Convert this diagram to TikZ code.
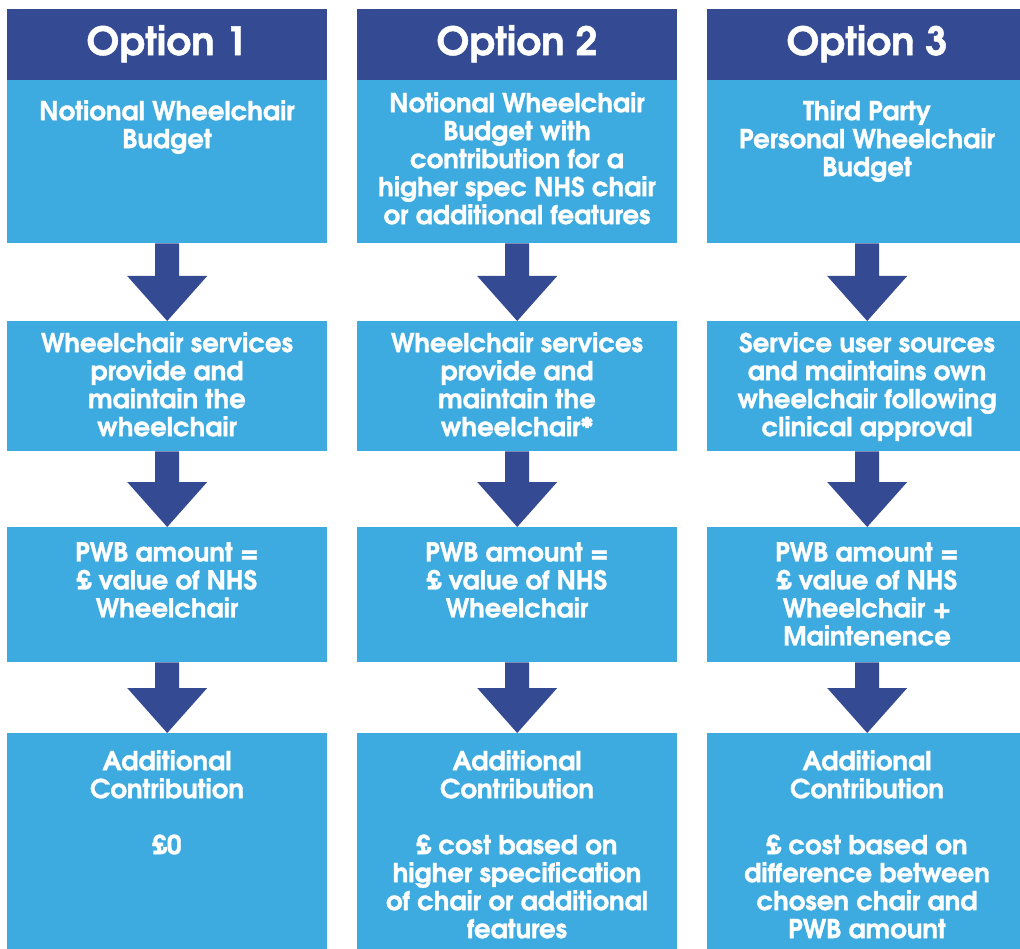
\documentclass[tikz,border=0pt]{standalone}
\usepackage{fontspec}
\setmainfont{TeX Gyre Adventor}[BoldFeatures={FakeBold=1.2}]
\usetikzlibrary{calc}
\definecolor{dblue}{RGB}{52,75,148}
\definecolor{lblue}{RGB}{61,171,224}
\newcommand\flowarrow[2]{%
  \fill[dblue] ($(#1.south)+(-12,0)$) -- ($(#1.south)+(12,0)$)
    -- ($(#2.north)+(12,-45)$) -- ($(#2.north)+(40,-45)$) -- (#2.north)
    -- ($(#2.north)+(-40,-45)$) -- ($(#2.north)+(-12,-45)$) -- cycle;}
\begin{document}
\begin{tikzpicture}[x=1pt,y=-1pt,
  hdrbox/.style={fill=dblue,draw=none,rectangle,inner sep=0pt,minimum width=320pt,anchor=north west},
  cellbox/.style={fill=lblue,draw=none,rectangle,inner sep=0pt,minimum width=320pt,anchor=north west},
  hdrtext/.style={text=white,font=\bfseries\fontsize{39}{44}\selectfont,anchor=north,inner sep=0pt},
  celltext/.style={text=white,font=\bfseries\fontsize{26}{28}\selectfont,align=center,anchor=north,inner sep=0pt}]
\useasboundingbox (0,0) rectangle (1020,949);
% column 1
\node[hdrbox,minimum height=71pt] (h1) at (7,9) {};
\node[cellbox,minimum height=163pt] (a1) at (7,80) {};
\node[cellbox,minimum height=130pt] (b1) at (7,321) {};
\node[cellbox,minimum height=135pt] (c1) at (7,527) {};
\node[cellbox,minimum height=216pt] (d1) at (7,733) {};
% column 2
\node[hdrbox,minimum height=71pt] (h2) at (357,9) {};
\node[cellbox,minimum height=163pt] (a2) at (357,80) {};
\node[cellbox,minimum height=130pt] (b2) at (357,321) {};
\node[cellbox,minimum height=135pt] (c2) at (357,527) {};
\node[cellbox,minimum height=216pt] (d2) at (357,733) {};
% column 3
\node[hdrbox,minimum height=71pt] (h3) at (707,9) {};
\node[cellbox,minimum height=163pt] (a3) at (707,80) {};
\node[cellbox,minimum height=130pt] (b3) at (707,321) {};
\node[cellbox,minimum height=135pt] (c3) at (707,527) {};
\node[cellbox,minimum height=216pt] (d3) at (707,733) {};
% arrows
\flowarrow{a1}{b1}\flowarrow{b1}{c1}\flowarrow{c1}{d1}
\flowarrow{a2}{b2}\flowarrow{b2}{c2}\flowarrow{c2}{d2}
\flowarrow{a3}{b3}\flowarrow{b3}{c3}\flowarrow{c3}{d3}
% headers
\node[hdrtext] (ht1) at (167,25) {Option 1};
\node[hdrtext] (ht2) at (517,25) {Option 2};
\node[hdrtext] (ht3) at (867,25) {Option 3};
% texts
\node[celltext] (ta1) at (167,100) {Notional Wheelchair\\Budget};
\node[celltext] (ta2) at (517,92) {Notional Wheelchair\\Budget with\\contribution for a\\higher spec NHS chair\\or additional features};
\node[celltext] (ta3) at (867,100) {Third Party\\Personal Wheelchair\\Budget};
\node[celltext] (tb1) at (167,332) {Wheelchair services\\provide and\\maintain the\\wheelchair};
\node[celltext] (tb2) at (517,332) {Wheelchair services\\provide and\\maintain the\\wheelchair*};
\node[celltext] (tb3) at (867,332) {Service user sources\\and maintains own\\wheelchair following\\clinical approval};
\node[celltext] (tc1) at (167,542) {PWB amount =\\£ value of NHS\\Wheelchair};
\node[celltext] (tc2) at (517,542) {PWB amount =\\£ value of NHS\\Wheelchair};
\node[celltext] (tc3) at (867,542) {PWB amount =\\£ value of NHS\\Wheelchair +\\Maintenence};
\node[celltext] (td1) at (167,750) {Additional\\Contribution\\[28pt]£0};
\node[celltext] (td2) at (517,750) {Additional\\Contribution\\[28pt]£ cost based on\\higher specification\\of chair or additional\\features};
\node[celltext] (td3) at (867,750) {Additional\\Contribution\\[28pt]£ cost based on\\difference between\\chosen chair and\\PWB amount};
\end{tikzpicture}
\end{document}
